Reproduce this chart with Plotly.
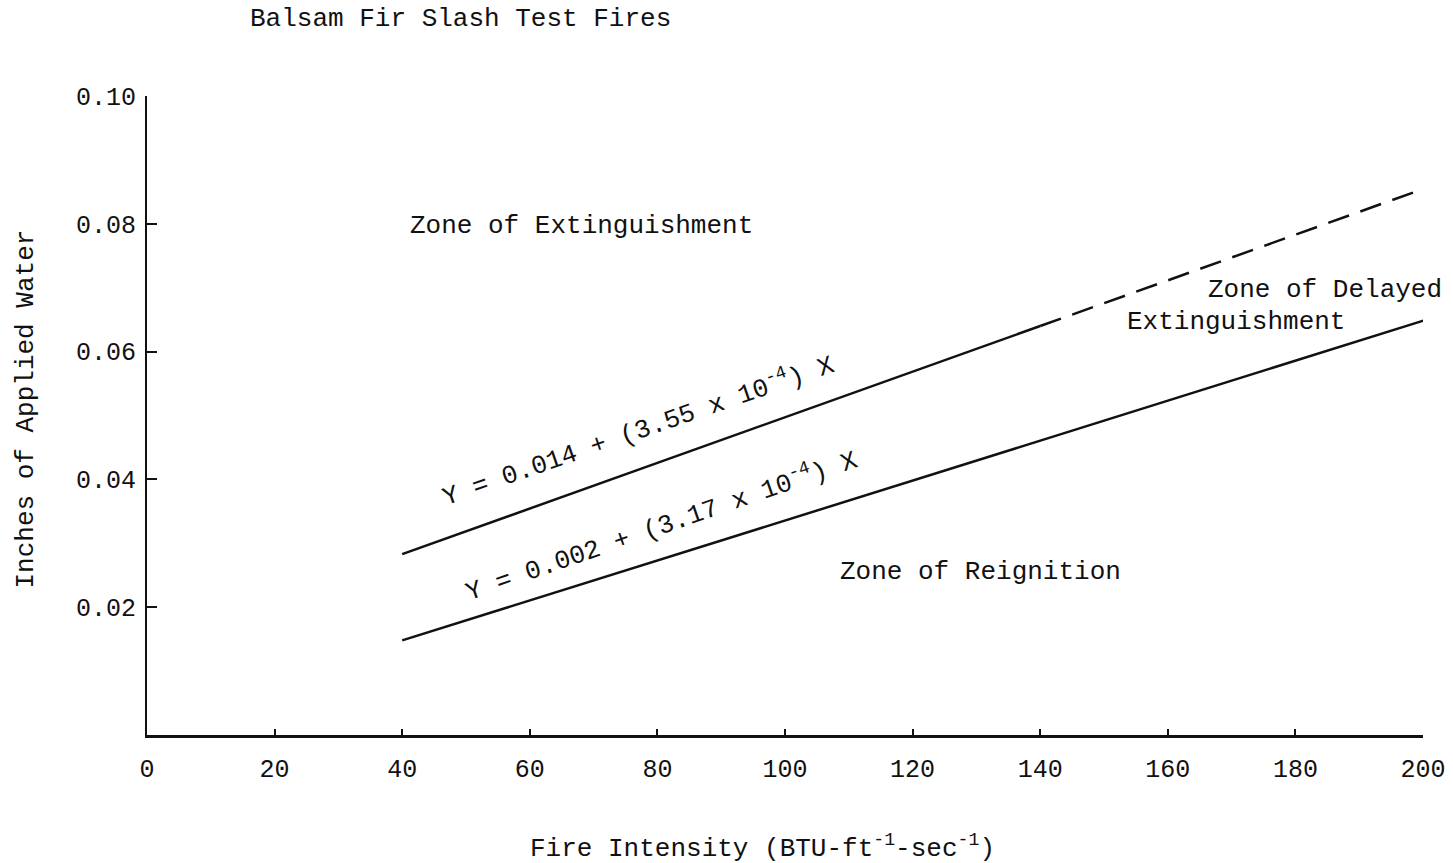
import plotly.graph_objects as go

# ---- data ----
upper_solid_x = [40, 140]
upper_solid_y = [0.0283, 0.0640]
upper_dash_x = [140, 201]
upper_dash_y = [0.0640, 0.0858]
lower_x = [40, 201.5]
lower_y = [0.0148, 0.0653]

x_tickvals = [0, 20, 40, 60, 80, 100, 120, 140, 160, 180, 200]
x_ticktext = ["0", "20", "40", "60", "80", "100", "120", "140", "160", "180", "200"]
y_tickvals = [0.02, 0.04, 0.06, 0.08, 0.10]
y_ticktext = ["0.02", "0.04", "0.06", "0.08", "0.10"]

title_text = "Balsam Fir Slash Test Fires"
x_title = "Fire Intensity (BTU-ft<sup>-1</sup>-sec<sup>-1</sup>)"
y_title = "Inches of Applied Water"
eq_upper = "Y = 0.014 + (3.55 x 10<sup>-4</sup>) X"
eq_lower = "Y = 0.002 + (3.17 x 10<sup>-4</sup>) X"

FONT = "Liberation Mono, Courier New, monospace"
INK = "#111111"

fig = go.Figure()
line_style = dict(color=INK, width=2.5)
fig.add_trace(go.Scatter(x=upper_solid_x, y=upper_solid_y, mode="lines",
                         line=line_style, cliponaxis=False, showlegend=False))
fig.add_trace(go.Scatter(x=upper_dash_x, y=upper_dash_y, mode="lines",
                         line=dict(color=INK, width=2.5, dash="22px,12px"),
                         cliponaxis=False, showlegend=False))
fig.add_trace(go.Scatter(x=lower_x, y=lower_y, mode="lines",
                         line=line_style, cliponaxis=False, showlegend=False))

ann_font = dict(family=FONT, size=26, color=INK)
annotations = [
    dict(text=title_text, xref="paper", yref="paper", x=0.0788, y=1.1205,
         xanchor="left", yanchor="middle", showarrow=False, font=ann_font),
    dict(text=y_title, xref="paper", yref="paper", x=-0.0945, y=0.51,
         xanchor="center", yanchor="middle", textangle=-90, showarrow=False, font=ann_font),
    dict(text=x_title, xref="paper", yref="paper", x=0.482, y=-0.175,
         xanchor="center", yanchor="middle", showarrow=False, font=ann_font),
    dict(text="Zone of Extinguishment", x=68.1, y=0.0797, showarrow=False, font=ann_font),
    dict(text="Zone of Delayed", x=184.7, y=0.0696, showarrow=False, font=ann_font),
    dict(text="Extinguishment", x=170.7, y=0.0646, showarrow=False, font=ann_font),
    dict(text="Zone of Reignition", x=130.7, y=0.0255, showarrow=False, font=ann_font),
    dict(text=eq_upper, x=76.9, y=0.0477, textangle=-19, showarrow=False, font=ann_font),
    dict(text=eq_lower, x=80.6, y=0.0329, textangle=-19, showarrow=False, font=ann_font),
]

fig.update_layout(
    width=1453, height=863,
    margin=dict(l=147, r=30, t=96, b=128, pad=0, autoexpand=False),
    paper_bgcolor="white", plot_bgcolor="white",
    font=dict(family=FONT, size=25, color=INK),
    annotations=annotations,
    showlegend=False,
)
fig.update_xaxes(
    range=[0, 200], tickvals=x_tickvals, ticktext=x_ticktext,
    showgrid=False, zeroline=False,
    showline=True, linecolor=INK, linewidth=3,
    ticks="inside", ticklen=6, tickwidth=2, tickcolor=INK,
    ticklabelstandoff=9,
    tickfont=dict(family=FONT, size=25, color=INK),
)
fig.update_yaxes(
    range=[0, 0.10], tickvals=y_tickvals, ticktext=y_ticktext,
    showgrid=False, zeroline=False,
    showline=True, linecolor=INK, linewidth=2,
    ticks="inside", ticklen=10, tickwidth=1.5, tickcolor=INK,
    ticklabelstandoff=4,
    tickfont=dict(family=FONT, size=25, color=INK),
)

fig.write_html("out.html")
